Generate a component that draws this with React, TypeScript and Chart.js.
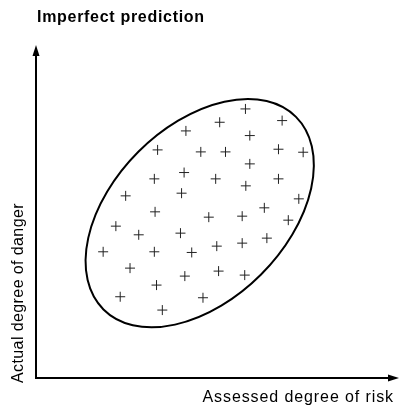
import { useEffect, useRef } from 'react';
import { Chart, registerables } from 'chart.js';

Chart.register(...registerables);

const TITLE = 'Imperfect prediction';
const X_LABEL = 'Assessed degree of risk';
const Y_LABEL = 'Actual degree of danger';

// Assessed degree of risk (x, 0–100) for each observation
const assessedRisk = [
  57.7, 67.8, 50.6, 41.3, 58.9, 33.5, 45.4, 52.2, 66.8, 73.6,
  58.9, 32.6, 40.8, 49.5, 57.8, 66.8, 24.7, 40.1, 72.4, 32.8,
  47.6, 56.8, 62.9, 69.5, 22.0, 28.3, 39.8, 18.5, 32.6, 42.9,
  49.8, 56.8, 63.6, 25.9, 33.2, 41.0, 50.3, 57.5, 23.2, 34.8,
  46.0,
];

// Actual degree of danger (y, 0–100) for each observation
const actualDanger = [
  80.8, 77.3, 76.8, 74.2, 72.8, 68.5, 67.9, 67.9, 68.7, 67.8,
  64.3, 59.8, 61.7, 59.8, 57.7, 59.8, 54.7, 55.5, 53.8, 49.9,
  48.3, 48.6, 51.1, 47.4, 45.6, 43.0, 43.5, 37.9, 37.9, 37.7,
  39.6, 40.5, 42.0, 33.0, 27.9, 30.6, 32.1, 30.9, 24.4, 20.4,
  24.1,
];

// Enclosing ellipse (in x-axis units)
const ELLIPSE_CENTER = [45.1, 49.5];
const ELLIPSE_SEMI_AXES = [37.5, 23.9];
const ELLIPSE_TILT_DEG = 45;

const FONT = "'Liberation Sans', Arial, Helvetica, sans-serif";

const decorPlugin = {
  id: 'decor',
  beforeDatasetsDraw(chart: any) {
    const { ctx, scales, chartArea } = chart;
    const xs = scales.x;
    const ys = scales.y;
    const unit = (xs.getPixelForValue(100) - xs.getPixelForValue(0)) / 100;
    ctx.save();
    // ellipse
    ctx.beginPath();
    ctx.ellipse(
      xs.getPixelForValue(ELLIPSE_CENTER[0]),
      ys.getPixelForValue(ELLIPSE_CENTER[1]),
      ELLIPSE_SEMI_AXES[0] * unit,
      ELLIPSE_SEMI_AXES[1] * unit,
      (-ELLIPSE_TILT_DEG * Math.PI) / 180,
      0,
      Math.PI * 2
    );
    ctx.strokeStyle = '#000';
    ctx.lineWidth = 2;
    ctx.stroke();

    // axes
    const x0 = chartArea.left;
    const y0 = chartArea.bottom;
    const top = chartArea.top;
    const right = chartArea.right;
    ctx.beginPath();
    ctx.moveTo(x0, top + 8);
    ctx.lineTo(x0, y0);
    ctx.lineTo(right - 8, y0);
    ctx.lineWidth = 2;
    ctx.stroke();
    ctx.fillStyle = '#000';
    ctx.beginPath();
    ctx.moveTo(x0, top);
    ctx.lineTo(x0 - 3.5, top + 11);
    ctx.lineTo(x0 + 3.5, top + 11);
    ctx.closePath();
    ctx.fill();
    ctx.beginPath();
    ctx.moveTo(right, y0);
    ctx.lineTo(right - 11, y0 - 3.5);
    ctx.lineTo(right - 11, y0 + 3.5);
    ctx.closePath();
    ctx.fill();

    // texts
    ctx.fillStyle = '#000';
    ctx.textBaseline = 'middle';
    ctx.font = `bold 16px ${FONT}`;
    ctx.letterSpacing = '0.7px';
    ctx.textAlign = 'left';
    ctx.fillText(TITLE, 37, 17.5);
    ctx.font = `16px ${FONT}`;
    ctx.letterSpacing = '0.9px';
    ctx.textAlign = 'right';
    ctx.fillText(X_LABEL, 394, 397.5);
    ctx.save();
    ctx.translate(18.5, 383);
    ctx.rotate(-Math.PI / 2);
    ctx.letterSpacing = '0.4px';
    ctx.textAlign = 'left';
    ctx.fillText(Y_LABEL, 0, 0);
    ctx.restore();
    ctx.restore();
  },
};

export default function App() {
  const ref = useRef<HTMLCanvasElement | null>(null);
  useEffect(() => {
    document.body.style.margin = '0';
    const canvas = ref.current;
    if (!canvas) return;
    const chart = new Chart(canvas, {
      type: 'scatter',
      data: {
        datasets: [
          {
            label: 'Observations',
            data: assessedRisk.map((x, i) => ({ x, y: actualDanger[i] })),
            pointStyle: 'cross',
            pointRadius: 5,
            pointHoverRadius: 5,
            borderColor: '#222',
            backgroundColor: '#222',
            borderWidth: 1,
          },
        ],
      },
      options: {
        responsive: false,
        animation: false,
        layout: { padding: { left: 36, right: 2, top: 45, bottom: 29 } },
        scales: {
          x: { type: 'linear', min: 0, max: 100, display: false },
          y: { type: 'linear', min: 0, max: 100, display: false },
        },
        plugins: {
          legend: { display: false },
          tooltip: { enabled: false },
          title: { display: false },
        },
      },
      plugins: [decorPlugin],
    });
    return () => chart.destroy();
  }, []);
  return (
    <div style={{ width: 405, height: 407, background: '#fff' }}>
      <canvas ref={ref} width={405} height={407} />
    </div>
  );
}
